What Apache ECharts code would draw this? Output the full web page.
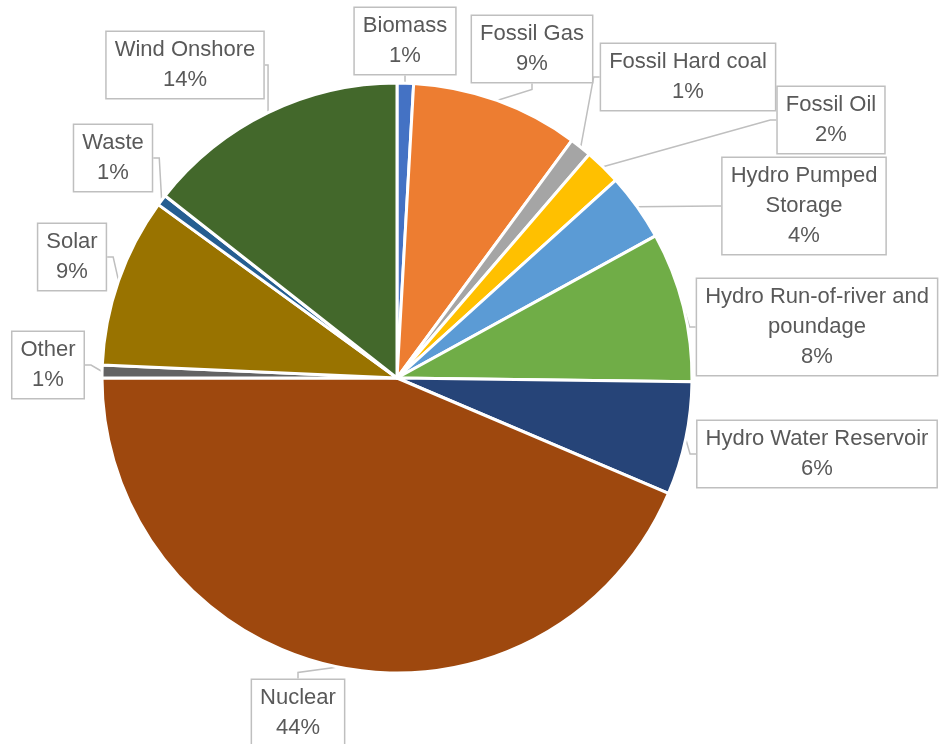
<!DOCTYPE html>
<html>
<head>
<meta charset="utf-8">
<script src="https://cdn.jsdelivr.net/npm/echarts@6/dist/echarts.min.js"></script>
<style>
  html, body { margin: 0; padding: 0; background: #fff; }
  #chart { width: 940px; height: 744px; }
</style>
</head>
<body>
<div id="chart"></div>
<script>
// share of generation, in percent
const sources = [
  'Biomass', 'Fossil Gas', 'Fossil Hard coal', 'Fossil Oil',
  'Hydro Pumped Storage', 'Hydro Run-of-river and poundage',
  'Hydro Water Reservoir', 'Nuclear', 'Other', 'Solar', 'Waste', 'Wind Onshore'
];
const shares = [0.9, 9.2, 1.2, 2.0, 3.7, 8.2, 6.2, 43.6, 0.7, 9.3, 0.6, 14.4];

const colors = [
  '#4472C4', '#ED7D31', '#A5A5A5', '#FFC000', '#5B9BD5', '#70AD47',
  '#264478', '#9E480E', '#636363', '#997300', '#255E91', '#43682B'
];

// how each callout wraps its name
const wrapped = {
  'Hydro Pumped Storage': 'Hydro Pumped\nStorage',
  'Hydro Run-of-river and poundage': 'Hydro Run-of-river and\npoundage'
};

// callout box centres (px)
const calloutPos = [
  [405, 41], [532, 49], [688, 77], [831, 120], [804, 206], [817, 327],
  [817, 454], [298, 713], [48, 365], [72, 257], [113, 158], [185, 65]
];

const chart = echarts.init(document.getElementById('chart'));

chart.setOption({
  animation: false,
  color: colors,
  series: [
    {
      type: 'pie',
      center: [397, 378],
      radius: 295,
      startAngle: 90,
      clockwise: true,
      avoidLabelOverlap: false,
      itemStyle: {
        borderColor: '#ffffff',
        borderWidth: 3
      },
      label: {
        show: true,
        position: 'outside',
        formatter: p => (wrapped[p.name] || p.name) + '\n' + Math.round(p.percent) + '%',
        fontFamily: 'Liberation Sans, Arial, sans-serif',
        fontSize: 22,
        lineHeight: 30,
        color: '#595959',
        align: 'center',
        backgroundColor: '#ffffff',
        borderColor: '#BFBFBF',
        borderWidth: 1.5,
        padding: [3, 8]
      },
      labelLine: {
        show: true,
        length: 6,
        length2: 6,
        lineStyle: {
          color: '#BFBFBF',
          width: 1.5
        }
      },
      labelLayout: params => {
        const pos = calloutPos[params.dataIndex];
        return {
          x: pos[0],
          y: pos[1],
          align: 'center',
          verticalAlign: 'middle'
        };
      },
      data: sources.map((name, i) => ({ name: name, value: shares[i] }))
    }
  ]
});
</script>
</body>
</html>
